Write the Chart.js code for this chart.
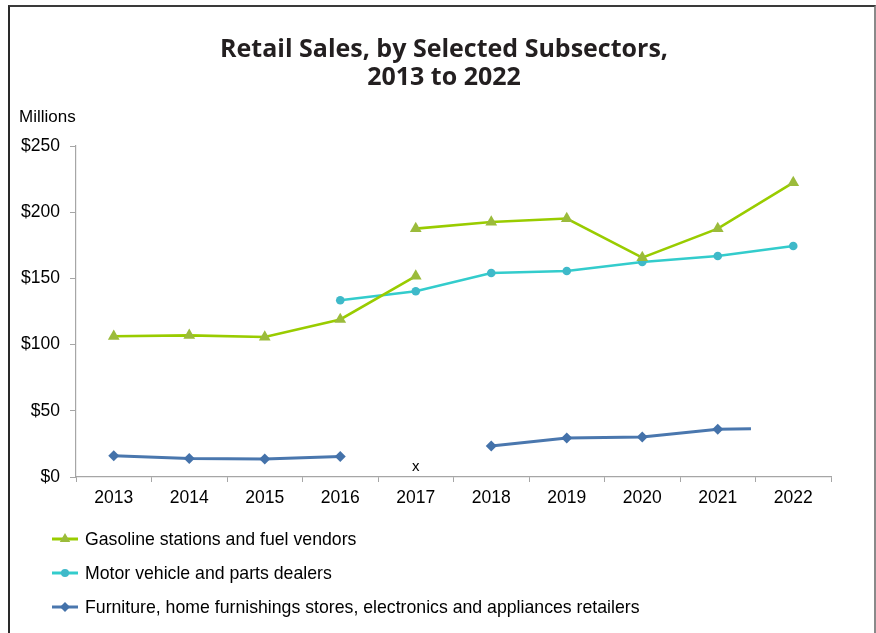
<!DOCTYPE html>
<html>
<head>
<meta charset="utf-8">
<script src="https://cdn.jsdelivr.net/npm/chart.js@4/dist/chart.umd.min.js"></script>
<style>
  html, body { margin: 0; padding: 0; background: #fff; overflow: hidden; }
  #wrap { position: relative; width: 876px; height: 633px; }
  #frame {
    position: absolute; left: 8px; top: 5px; width: 864px; height: 700px;
    border-top: 2px solid #3a3a3a; border-left: 2px solid #2a2a2a; border-right: 2px solid #8a8a8a;
    pointer-events: none;
  }
  canvas { position: absolute; left: 0; top: 0; }
</style>
</head>
<body>
<div id="wrap">
  <canvas id="chart" width="876" height="633"></canvas>
  <div id="frame"></div>
</div>
<script>
const years = ['2013', '2014', '2015', '2016', '2017', '2018', '2019', '2020', '2021', '2022'];
const yTicks = [0, 50, 100, 150, 200, 250];

// gasoline series is split at 2017 (old basis / new basis)
const gasolineOld = [106.3, 107.0, 105.7, 119.0, 151.8, null, null, null, null, null];
const gasolineNew = [null, null, null, null, 187.6, 192.6, 195.2, 165.7, 187.6, 222.4];
const motorVehicle = [null, null, null, 133.5, 140.3, 154.1, 155.6, 162.4, 166.9, 174.5];
const furniture = [16.1, 13.9, 13.6, 15.4, null, 23.4, 29.5, 30.2, 36.0, null];
const furnitureTail = [2021.44, 36.5]; // short unmarked stub after 2021
const notAvailable = ['2017']; // furniture value shown as "x"

const labels = [
  'Gasoline stations and fuel vendors',
  'Motor vehicle and parts dealers',
  'Furniture, home furnishings stores, electronics and appliances retailers'
];

const FONT = '"Liberation Sans", Arial, sans-serif';

function toPoints(values) {
  return values
    .map((v, i) => ({ x: Number(years[i]), y: v }))
    .filter(p => p.y !== null);
}

const gasolinePts = [...toPoints(gasolineOld), { x: 2017, y: null }, ...toPoints(gasolineNew)];
const motorPts = toPoints(motorVehicle);
const furniturePts = [
  ...toPoints(furniture.slice(0, 4)),
  { x: 2017, y: null },
  ...furniture.map((v, i) => ({ x: Number(years[i]), y: v })).slice(5).filter(p => p.y !== null),
  { x: furnitureTail[0], y: furnitureTail[1], stub: true }
];

const datasets = [
  {
    label: labels[0],
    data: gasolinePts,
    borderColor: '#99cc00',
    backgroundColor: '#9bbb3b',
    pointBackgroundColor: '#9bbb3b',
    pointBorderWidth: 0,
    pointStyle: 'triangle',
    pointRadius: 6.8,
    borderWidth: 2.6
  },
  {
    label: labels[1],
    data: motorPts,
    borderColor: '#33cccc',
    backgroundColor: '#3fb9c9',
    pointBackgroundColor: '#3fb9c9',
    pointBorderWidth: 0,
    pointStyle: 'circle',
    pointRadius: 4.3,
    borderWidth: 2.6
  },
  {
    label: labels[2],
    data: furniturePts,
    borderColor: '#4a77ae',
    backgroundColor: '#4472aa',
    pointBackgroundColor: '#4472aa',
    pointBorderWidth: 0,
    pointStyle: 'rectRot',
    pointRadius: ctx => (ctx.raw && ctx.raw.stub ? 0 : 5.5),
    borderWidth: 3
  }
];

const decorPlugin = {
  id: 'decor',
  afterDraw(chart) {
    const { ctx, chartArea, scales } = chart;
    ctx.save();

    // title
    ctx.fillStyle = '#231f20';
    ctx.font = `700 25px "Open Sans", sans-serif`;
    ctx.textAlign = 'center';
    ctx.textBaseline = 'middle';
    ctx.fillText('Retail Sales, by Selected Subsectors,', 444, 50);
    ctx.fillText('2013 to 2022', 444, 78);

    // unit label
    ctx.fillStyle = '#000';
    ctx.font = `17px ${FONT}`;
    ctx.textAlign = 'left';
    ctx.fillText('Millions', 19, 117);

    // not available marker
    ctx.textAlign = 'center';
    ctx.font = `15px ${FONT}`;
    notAvailable.forEach(yr => {
      const x = scales.x.getPixelForValue(Number(yr));
      ctx.fillText('x', x, scales.y.getPixelForValue(0) - 10);
    });

    // legend, stacked rows
    chart.data.datasets.forEach((ds, i) => {
      const y = chartArea.bottom + 62 + i * 34;
      ctx.strokeStyle = ds.borderColor;
      ctx.lineWidth = 3;
      ctx.beginPath();
      ctx.moveTo(52, y);
      ctx.lineTo(78, y);
      ctx.stroke();
      ctx.fillStyle = ds.pointBackgroundColor;
      Chart.helpers.drawPoint(ctx, {
        pointStyle: ds.pointStyle,
        radius: ds.pointStyle === 'triangle' ? 6 : (ds.pointStyle === 'circle' ? 4 : 5),
        rotation: 0,
        borderWidth: 0
      }, 65, y);
      ctx.fillStyle = '#000';
      ctx.font = `17.7px ${FONT}`;
      ctx.textAlign = 'left';
      ctx.fillText(ds.label, 85, y + 1);
    });

    ctx.restore();
  }
};

new Chart(document.getElementById('chart'), {
  type: 'line',
  data: { labels: years, datasets },
  plugins: [decorPlugin],
  options: {
    responsive: false,
    animation: false,
    spanGaps: false,
    layout: { padding: { top: 146, right: 45, bottom: 126, left: 0 } },
    plugins: {
      legend: { display: false },
      title: { display: false },
      tooltip: { enabled: false }
    },
    scales: {
      x: {
        type: 'linear',
        min: 2012.5,
        max: 2022.5,
        display: false
      },
      xc: {
        type: 'category',
        axis: 'x',
        position: 'bottom',
        labels: years,
        offset: true,
        afterFit: s => { s.height = 30; },
        grid: {
          offset: true,
          drawOnChartArea: false,
          tickLength: 5,
          color: '#a6a6a6'
        },
        border: { color: '#a6a6a6', width: 1.2 },
        ticks: { color: '#000', font: { family: FONT, size: 17.5 }, padding: 6, maxRotation: 0 }
      },
      y: {
        min: 0,
        max: 250,
        afterFit: s => { s.width = 76; },
        afterBuildTicks: s => { s.ticks = yTicks.map(v => ({ value: v })); },
        grid: {
          drawOnChartArea: false,
          tickLength: 6,
          color: '#a6a6a6'
        },
        border: { color: '#a6a6a6', width: 1.2 },
        ticks: {
          color: '#000',
          padding: 10,
          font: { family: FONT, size: 17.5 },
          callback: v => '$' + v
        }
      }
    }
  }
});
</script>
</body>
</html>
